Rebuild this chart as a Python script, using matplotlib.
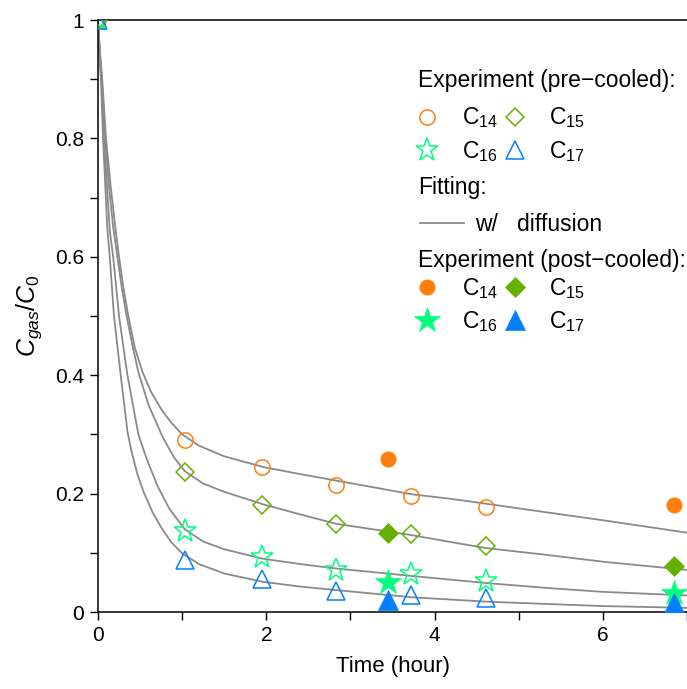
import matplotlib
matplotlib.use("Agg")
import matplotlib.pyplot as plt
from matplotlib.lines import Line2D
from matplotlib.ticker import MultipleLocator

plt.rcParams['font.family'] = ['Liberation Sans', 'DejaVu Sans']
plt.rcParams['mathtext.fontset'] = 'custom'
plt.rcParams['mathtext.rm'] = 'Liberation Sans'
plt.rcParams['mathtext.it'] = 'Liberation Sans:italic'
plt.rcParams['mathtext.bf'] = 'Liberation Sans:bold'

# ---------------- data ----------------
t_pre = [0, 1.03, 1.955, 2.83, 3.72, 4.61]
c14_pre = [1, 0.290, 0.245, 0.215, 0.196, 0.177]
c15_pre = [1, 0.236, 0.181, 0.148, 0.131, 0.111]
c16_pre = [1, 0.136, 0.093, 0.071, 0.0635, 0.052]
c17_pre = [1, 0.087, 0.055, 0.036, 0.029, 0.023]

t_post = [3.45, 6.85]
c14_post = [0.258, 0.180]
c15_post = [0.1335, 0.078]
c16_post = [0.051, 0.032]
c17_post = [0.021, 0.0157]

# fitted curves
fit14_t = [0, 0.02, 0.05, 0.095, 0.15, 0.21, 0.25, 0.30, 0.36, 0.44, 0.53, 0.63, 0.75, 0.87, 1.0,
           1.2, 1.5, 1.96, 2.4, 2.83, 3.3, 3.72, 4.2, 4.61, 5.3, 6.0, 7.0]
fit14_c = [1, 0.95, 0.90, 0.80, 0.72, 0.645, 0.60, 0.55, 0.50, 0.445, 0.405, 0.372, 0.343, 0.320, 0.300,
           0.281, 0.263, 0.245, 0.233, 0.222, 0.210, 0.199, 0.191, 0.183, 0.169, 0.155, 0.134]
fit15_t = [0, 0.02, 0.045, 0.085, 0.13, 0.18, 0.23, 0.28, 0.34, 0.41, 0.48, 0.60, 0.77, 0.90, 1.03,
           1.25, 1.5, 1.96, 2.4, 2.83, 3.3, 3.72, 4.2, 4.61, 5.3, 6.0, 7.0]
fit15_c = [1, 0.95, 0.90, 0.80, 0.72, 0.65, 0.60, 0.55, 0.50, 0.45, 0.405, 0.35, 0.295, 0.262, 0.238,
           0.217, 0.203, 0.182, 0.165, 0.149, 0.139, 0.130, 0.118, 0.108, 0.097, 0.085, 0.071]
fit16_t = [0, 0.02, 0.04, 0.07, 0.14, 0.18, 0.25, 0.35, 0.48, 0.58, 0.71, 0.85, 1.03, 1.25, 1.5,
           1.96, 2.4, 2.83, 3.72, 4.61, 5.3, 6.0, 7.0]
fit16_c = [1, 0.95, 0.90, 0.80, 0.645, 0.60, 0.50, 0.40, 0.30, 0.258, 0.212, 0.174, 0.140, 0.119, 0.106,
           0.090, 0.081, 0.0735, 0.061, 0.049, 0.041, 0.034, 0.028]
fit17_t = [0, 0.015, 0.035, 0.06, 0.11, 0.14, 0.19, 0.27, 0.35, 0.40, 0.47, 0.55, 0.65, 0.75, 0.87,
           1.0, 1.2, 1.5, 1.96, 2.4, 2.83, 3.72, 4.61, 6.0, 7.0]
fit17_c = [1, 0.94, 0.90, 0.80, 0.65, 0.60, 0.50, 0.40, 0.305, 0.27, 0.232, 0.20, 0.168, 0.143, 0.118,
           0.099, 0.081, 0.065, 0.051, 0.043, 0.037, 0.025, 0.0175, 0.010, 0.007]

labels = [r'C$_{14}$', r'C$_{15}$', r'C$_{16}$', r'C$_{17}$']
colors = ['#FF7F0E', '#66B000', '#00FF7F', '#0080FF']
markers = ['o', 'D', '*', '^']
pre_sizes = [11, 9, 17, 13]
post_sizes = [11, 10, 19, 14]

fig = plt.figure(figsize=(6.87, 6.89), dpi=100)
ax = fig.add_axes([98/687, 1-612/689, 589/687, 592/689])

gray = '#8a8a8a'
for ft, fc in [(fit14_t, fit14_c), (fit15_t, fit15_c), (fit16_t, fit16_c), (fit17_t, fit17_c)]:
    ax.plot(ft, fc, color=gray, lw=1.3, zorder=2, solid_joinstyle='round')

pre = [c14_pre, c15_pre, c16_pre, c17_pre]
post = [c14_post, c15_post, c16_post, c17_post]
pre_handles = []
post_handles = []
for i in range(4):
    h, = ax.plot(t_pre, pre[i], ls='none', marker=markers[i], ms=pre_sizes[i],
                 mfc='none', mec=colors[i], mew=1.1, zorder=3, label=labels[i])
    pre_handles.append(h)
    h2, = ax.plot(t_post, post[i], ls='none', marker=markers[i], ms=post_sizes[i],
                  mfc=colors[i], mec=colors[i], mew=0.5, zorder=4, label=labels[i])
    post_handles.append(h2)

ax.set_xlim(0, 7)
ax.set_ylim(0, 1)
ax.xaxis.set_major_locator(MultipleLocator(2))
ax.xaxis.set_minor_locator(MultipleLocator(1))
ax.yaxis.set_minor_locator(MultipleLocator(0.1))
ax.set_yticks([0, 0.2, 0.4, 0.6, 0.8, 1])
ax.set_yticklabels(['0', '0.2', '0.4', '0.6', '0.8', '1'])
ax.tick_params(which='both', direction='out', length=6, width=1, labelsize=15, pad=4)
ax.spines['right'].set_visible(False)
for s in ['left', 'bottom', 'top']:
    ax.spines[s].set_linewidth(1.1)

ax.set_xlabel('Time (hour)', fontsize=16, labelpad=8)
ax.set_ylabel(r'$C_{gas}/C_{0}$', fontsize=18, labelpad=8)

FS = 16.5
x0 = 0.5433
head_kw = dict(transform=ax.transAxes, fontsize=FS, va='center', ha='left')
ax.text(x0, 0.898, 'Experiment (pre\u2212cooled):', **head_kw)
ax.text(x0, 0.717, 'Fitting:', **head_kw)
ax.text(x0, 0.594, 'Experiment (post\u2212cooled):', **head_kw)

order = [0, 2, 1, 3]
common = dict(frameon=False, fontsize=FS, loc='center left', ncol=2,
              handlelength=0.8, handletextpad=1.1, columnspacing=0.35,
              labelspacing=0.38, borderpad=0, borderaxespad=0)
leg1 = ax.legend([pre_handles[k] for k in order], [labels[k] for k in order],
                 bbox_to_anchor=(x0, 0.806), **common)
ax.add_artist(leg1)
fit_handle = Line2D([], [], color=gray, lw=1.3)
leg2 = ax.legend([fit_handle], ['w/   diffusion'], frameon=False, fontsize=FS, loc='center left',
                 handlelength=1.9, handletextpad=0.5, borderpad=0, borderaxespad=0,
                 bbox_to_anchor=(0.5467, 0.654))
ax.add_artist(leg2)
leg3 = ax.legend([post_handles[k] for k in order], [labels[k] for k in order],
                 bbox_to_anchor=(x0, 0.5186), **common)

fig.savefig('out.png', dpi=100)
